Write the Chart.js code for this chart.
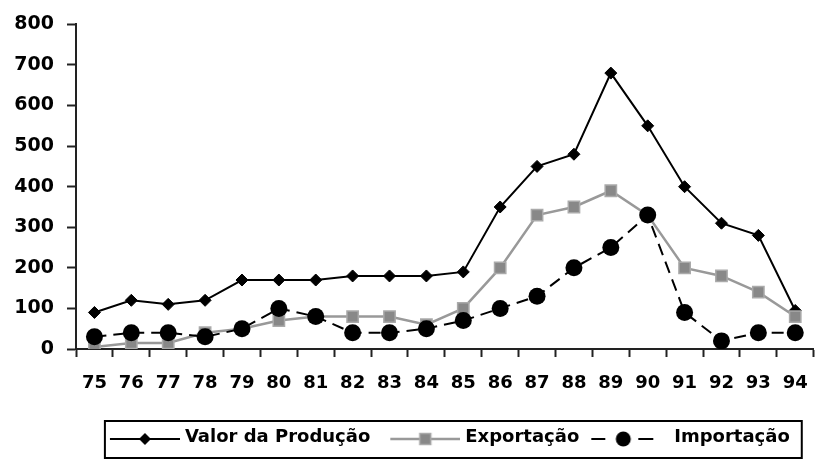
<!DOCTYPE html>
<html>
<head>
<meta charset="utf-8">
<script src="https://cdn.jsdelivr.net/npm/chart.js@4.4.0/dist/chart.umd.min.js"></script>
<style>
body { margin: 0; background: #fff; }
#wrap { width: 815px; height: 459px; overflow: hidden; }
</style>
</head>
<body>
<div id="wrap"><canvas id="myChart" width="824" height="459"></canvas></div>
<script>
var years = ['75', '76', '77', '78', '79', '80', '81', '82', '83', '84', '85', '86', '87', '88', '89', '90', '91', '92', '93', '94'];
var valorProducao = [90, 120, 110, 120, 170, 170, 170, 180, 180, 180, 190, 350, 450, 480, 680, 550, 400, 310, 280, 95];
var exportacao = [5, 15, 15, 40, 50, 70, 80, 80, 80, 60, 100, 200, 330, 350, 390, 330, 200, 180, 140, 80];
var importacao = [30, 40, 40, 30, 50, 100, 80, 40, 40, 50, 70, 100, 130, 200, 250, 330, 90, 20, 40, 40];
var yMax = 800;
var yStep = 100;

Chart.defaults.font.family = '"DejaVu Sans", sans-serif';
Chart.defaults.font.weight = 'bold';
Chart.defaults.color = '#000';

// little line+marker pictures for the legend
function legendIcon(kind) {
    var c = document.createElement('canvas');
    c.width = 84;
    c.height = 24;
    var g = c.getContext('2d');
    var cy = 14;
    g.lineWidth = 2;
    if (kind == 'valor') {
        g.strokeStyle = '#000';
        g.beginPath(); g.moveTo(14, cy); g.lineTo(84, cy); g.stroke();
        g.fillStyle = '#000';
        g.beginPath(); g.moveTo(49 - 6, cy); g.lineTo(49, cy - 6); g.lineTo(49 + 6, cy); g.lineTo(49, cy + 6); g.closePath(); g.fill();
    } else if (kind == 'exp') {
        g.strokeStyle = '#999';
        g.lineWidth = 2.5;
        g.beginPath(); g.moveTo(14, cy); g.lineTo(84, cy); g.stroke();
        g.fillStyle = '#888';
        g.fillRect(49 - 5.5, cy - 5.5, 11, 11);
        g.strokeStyle = '#aaa';
        g.lineWidth = 1.5;
        g.strokeRect(49 - 5.5, cy - 5.5, 11, 11);
    } else {
        // dashed one sits a bit further left in the original
        g.strokeStyle = '#000';
        g.beginPath(); g.moveTo(6, cy); g.lineTo(20, cy); g.stroke();
        g.beginPath(); g.moveTo(53, cy); g.lineTo(68, cy); g.stroke();
        g.fillStyle = '#000';
        g.beginPath(); g.arc(38, cy, 7.5, 0, Math.PI * 2); g.fill();
    }
    return c;
}

var icons = [legendIcon('valor'), legendIcon('exp'), legendIcon('imp')];

var legendBox = {
    id: 'legendBox',
    afterDraw: function (chart) {
        var lg = chart.legend;
        if (!lg || !lg.legendHitBoxes || !lg.legendHitBoxes.length) return;
        var hb = lg.legendHitBoxes;
        var last = hb[hb.length - 1];
        var left = hb[0].left + 5;
        var right = last.left + last.width + 12;
        var ctx = chart.ctx;
        ctx.save();
        ctx.strokeStyle = '#000';
        ctx.lineWidth = 2;
        ctx.strokeRect(left, lg.top + 3, right - left, 37);
        ctx.restore();
    }
};

var ctx = document.getElementById('myChart').getContext('2d');
var myChart = new Chart(ctx, {
    type: 'line',
    data: {
        labels: years,
        datasets: [{
                label: 'Valor da Produção',
                data: valorProducao,
                borderColor: '#000',
                borderWidth: 2,
                pointStyle: 'rectRot',
                pointRadius: 6,
                pointBackgroundColor: '#000',
                pointBorderColor: '#000',
                pointBorderWidth: 1,
                order: 2
            },
            {
                label: 'Exportação',
                data: exportacao,
                borderColor: '#999',
                borderWidth: 2.5,
                pointStyle: 'rect',
                pointRadius: 8,
                pointBackgroundColor: '#888',
                pointBorderColor: '#aaa',
                pointBorderWidth: 1.5,
                order: 1
            },
            {
                label: 'Importação',
                data: importacao,
                borderColor: '#000',
                borderWidth: 2,
                borderDash: [12, 7],
                pointStyle: 'circle',
                pointRadius: 8.5,
                pointBackgroundColor: '#000',
                pointBorderColor: '#000',
                pointBorderWidth: 0,
                order: 0
            }
        ]
    },
    options: {
        responsive: false,
        animation: false,
        layout: {
            padding: { top: 20, right: 2, bottom: 3, left: 0 }
        },
        scales: {
            x: {
                offset: true,
                grid: {
                    offset: true,
                    drawOnChartArea: false,
                    drawTicks: true,
                    tickLength: 8,
                    tickColor: '#222',
                    tickWidth: 2
                },
                border: { display: true, color: '#222', width: 2 },
                ticks: {
                    font: { size: 18, weight: 'bold' },
                    padding: 16,
                    maxRotation: 0,
                    autoSkip: false
                },
                afterFit: function (scale) { scale.height = 69; }
            },
            y: {
                min: 0,
                max: yMax,
                grid: {
                    drawOnChartArea: false,
                    drawTicks: true,
                    tickLength: 9,
                    tickColor: '#222',
                    tickWidth: 2
                },
                border: { display: true, color: '#222', width: 2 },
                ticks: {
                    stepSize: yStep,
                    font: { size: 19, weight: 'bold' },
                    padding: 13
                },
                afterFit: function (scale) { scale.width = 76; }
            }
        },
        plugins: {
            tooltip: { enabled: false },
            legend: {
                position: 'bottom',
                fullSize: false,
                align: 'center',
                labels: {
                    usePointStyle: true,
                    pointStyleWidth: 76,
                    padding: 10,
                    font: { size: 18, weight: 'bold' },
                    color: '#000',
                    generateLabels: function (chart) {
                        return chart.data.datasets.map(function (ds, i) {
                            return {
                                text: ds.label,
                                pointStyle: icons[i],
                                fillStyle: 'rgba(0,0,0,0)',
                                strokeStyle: 'rgba(0,0,0,0)',
                                lineWidth: 0,
                                fontColor: '#000',
                                datasetIndex: i,
                                hidden: false
                            };
                        });
                    }
                }
            }
        }
    },
    plugins: [legendBox]
});
</script>
</body>
</html>
